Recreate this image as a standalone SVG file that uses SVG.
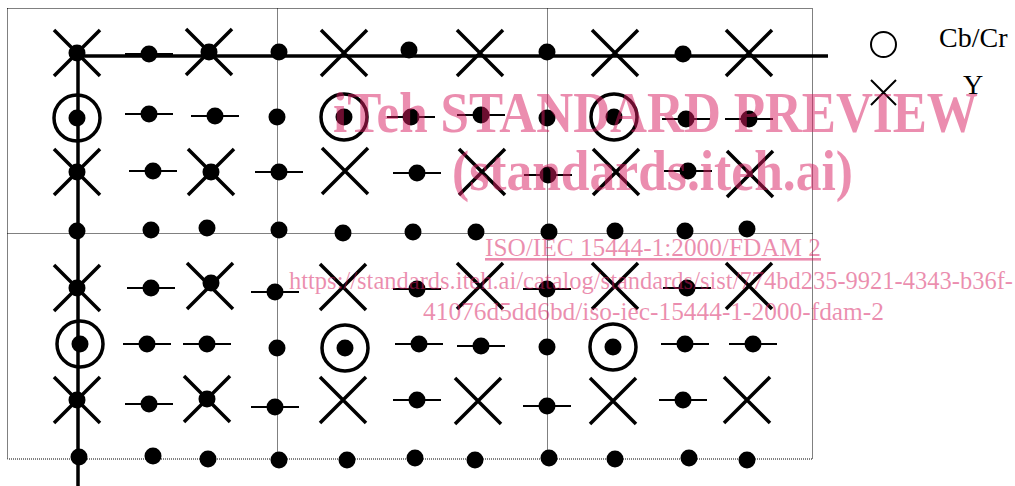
<svg xmlns="http://www.w3.org/2000/svg" xmlns:xlink="http://www.w3.org/1999/xlink" width="1015" height="486" viewBox="0 0 1015 486">
<style>
.frame{fill:none;stroke:#000;stroke-width:1;stroke-dasharray:1 1}
.axis{stroke:#000;stroke-width:3.5;fill:none}
.thin{stroke:#000;stroke-width:2;fill:none}
.xs{stroke:#000;stroke-width:3.5;fill:none}
.ring{fill:none;stroke:#000;stroke-width:3.5}
.dot{fill:#000}
.lg{font-family:"Liberation Serif","Times New Roman",serif;font-size:28px;fill:#000}
.wm{font-family:"Liberation Serif","Times New Roman",serif;fill:#d81b60;fill-opacity:0.5}
.wb{font-weight:bold;font-size:57px}
.ws{font-size:26px}
</style>
<defs>
<g id="sDot"><circle class="dot" r="8.5"/></g>
<g id="sDL"><line class="thin" x1="-24" y1="0" x2="24" y2="0"/><circle class="dot" r="8.5"/></g>
<g id="sX"><path class="xs" d="M-23 -23L23 23M23 -23L-23 23"/></g>
<g id="sXD"><path class="xs" d="M-23 -23L23 23M23 -23L-23 23"/><circle class="dot" r="8.5"/></g>
<g id="sRD"><circle class="ring" r="23"/><circle class="dot" r="8.5"/></g>
</defs>
<rect width="1015" height="486" fill="#fff"/>
<g id="grid">
<rect class="frame" x="7.5" y="8.5" width="805" height="450.5"/>
<line class="frame" x1="277.5" y1="8.5" x2="277.5" y2="459"/>
<line class="frame" x1="547.5" y1="8.5" x2="547.5" y2="459"/>
<line class="frame" x1="7.5" y1="233.5" x2="812.5" y2="233.5"/>
</g>
<g id="connectors">
<line class="thin" x1="125" y1="54" x2="173" y2="54"/>
<line class="axis" x1="77" y1="56" x2="828" y2="56"/>
<line class="axis" x1="78" y1="53" x2="78" y2="486"/>
</g>
<g id="row1">
<g id="n1-1"><use xlink:href="#sXD" x="77" y="53"/></g>
<g id="n1-2"><circle class="dot" cx="149" cy="54" r="8.5"/></g>
<g id="n1-3"><use xlink:href="#sXD" x="209" y="52"/></g>
<g id="n1-4"><use xlink:href="#sDot" x="279" y="52"/></g>
<g id="n1-5"><use xlink:href="#sX" x="344" y="53"/></g>
<g id="n1-6"><use xlink:href="#sDot" x="409" y="50"/></g>
<g id="n1-7"><use xlink:href="#sX" x="480" y="53"/></g>
<g id="n1-8"><use xlink:href="#sDot" x="547" y="52"/></g>
<g id="n1-9"><use xlink:href="#sX" x="615" y="53"/></g>
<g id="n1-10"><use xlink:href="#sDot" x="683" y="54"/></g>
<g id="n1-11"><use xlink:href="#sX" x="749" y="53"/></g>
</g>
<g id="row2">
<g id="n2-1"><use xlink:href="#sRD" x="77" y="118"/></g>
<g id="n2-2"><use xlink:href="#sDL" x="149" y="114"/></g>
<g id="n2-3"><use xlink:href="#sDL" x="215" y="116"/></g>
<g id="n2-4"><use xlink:href="#sDot" x="277" y="117"/></g>
<g id="n2-5"><use xlink:href="#sRD" x="344" y="117"/></g>
<g id="n2-6"><use xlink:href="#sDL" x="411" y="117"/></g>
<g id="n2-7"><use xlink:href="#sDL" x="481" y="115"/></g>
<g id="n2-8"><use xlink:href="#sDot" x="547" y="118"/></g>
<g id="n2-9"><use xlink:href="#sRD" x="614" y="117"/></g>
<g id="n2-10"><use xlink:href="#sDL" x="686" y="119"/></g>
<g id="n2-11"><use xlink:href="#sDL" x="749" y="119"/></g>
</g>
<g id="row3">
<g id="n3-1"><use xlink:href="#sXD" x="77" y="172"/></g>
<g id="n3-2"><use xlink:href="#sDL" x="153" y="171"/></g>
<g id="n3-3"><use xlink:href="#sXD" x="211" y="172"/></g>
<g id="n3-4"><use xlink:href="#sDL" x="279" y="172"/></g>
<g id="n3-5"><use xlink:href="#sX" x="345" y="171"/></g>
<g id="n3-6"><use xlink:href="#sDL" x="417" y="173"/></g>
<g id="n3-7"><use xlink:href="#sX" x="482" y="172"/></g>
<g id="n3-8"><use xlink:href="#sDL" x="548" y="175"/></g>
<g id="n3-9"><use xlink:href="#sX" x="616" y="172"/></g>
<g id="n3-10"><use xlink:href="#sDL" x="688" y="171"/></g>
<g id="n3-11"><use xlink:href="#sX" x="750" y="174"/></g>
</g>
<g id="row4">
<g id="n4-1"><use xlink:href="#sDot" x="77" y="231"/></g>
<g id="n4-2"><use xlink:href="#sDot" x="151" y="230"/></g>
<g id="n4-3"><use xlink:href="#sDot" x="207" y="228"/></g>
<g id="n4-4"><use xlink:href="#sDot" x="279" y="230"/></g>
<g id="n4-5"><use xlink:href="#sDot" x="343" y="233"/></g>
<g id="n4-6"><use xlink:href="#sDot" x="413" y="232"/></g>
<g id="n4-7"><use xlink:href="#sDot" x="476" y="232"/></g>
<g id="n4-8"><use xlink:href="#sDot" x="549" y="232"/></g>
<g id="n4-9"><use xlink:href="#sDot" x="615" y="231"/></g>
<g id="n4-10"><use xlink:href="#sDot" x="685" y="231"/></g>
<g id="n4-11"><use xlink:href="#sDot" x="747" y="229"/></g>
</g>
<g id="row5">
<g id="n5-1"><use xlink:href="#sXD" x="77" y="288"/></g>
<g id="n5-2"><use xlink:href="#sDL" x="151" y="288"/></g>
<g id="n5-3"><use xlink:href="#sX" x="210" y="286"/><use xlink:href="#sDot" x="211" y="283"/></g>
<g id="n5-4"><use xlink:href="#sDL" x="275" y="292"/></g>
<g id="n5-5"><use xlink:href="#sX" x="343" y="287"/></g>
<g id="n5-6"><use xlink:href="#sDL" x="417" y="289"/></g>
<g id="n5-7"><use xlink:href="#sX" x="480" y="286"/></g>
<g id="n5-8"><use xlink:href="#sDL" x="547" y="289"/></g>
<g id="n5-9"><use xlink:href="#sX" x="615" y="286"/></g>
<g id="n5-10"><use xlink:href="#sDL" x="687" y="288"/></g>
<g id="n5-11"><use xlink:href="#sX" x="749" y="286"/></g>
</g>
<g id="row6">
<g id="n6-1"><use xlink:href="#sRD" x="80" y="344"/></g>
<g id="n6-2"><use xlink:href="#sDL" x="147" y="344"/></g>
<g id="n6-3"><use xlink:href="#sDL" x="207" y="344"/></g>
<g id="n6-4"><use xlink:href="#sDot" x="277" y="348"/></g>
<g id="n6-5"><use xlink:href="#sRD" x="345" y="348"/></g>
<g id="n6-6"><use xlink:href="#sDL" x="419" y="344"/></g>
<g id="n6-7"><use xlink:href="#sDL" x="481" y="346"/></g>
<g id="n6-8"><use xlink:href="#sDot" x="547" y="347"/></g>
<g id="n6-9"><use xlink:href="#sRD" x="613" y="347"/></g>
<g id="n6-10"><use xlink:href="#sDL" x="685" y="344"/></g>
<g id="n6-11"><use xlink:href="#sDL" x="753" y="344"/></g>
</g>
<g id="row7">
<g id="n7-1"><use xlink:href="#sXD" x="77" y="400"/></g>
<g id="n7-2"><use xlink:href="#sDL" x="149" y="404"/></g>
<g id="n7-3"><use xlink:href="#sXD" x="207" y="399"/></g>
<g id="n7-4"><use xlink:href="#sDL" x="275" y="407"/></g>
<g id="n7-5"><use xlink:href="#sX" x="343" y="400"/></g>
<g id="n7-6"><use xlink:href="#sDL" x="417" y="400"/></g>
<g id="n7-7"><use xlink:href="#sX" x="478" y="401"/></g>
<g id="n7-8"><use xlink:href="#sDL" x="547" y="406"/></g>
<g id="n7-9"><use xlink:href="#sX" x="613" y="401"/></g>
<g id="n7-10"><use xlink:href="#sDL" x="683" y="400"/></g>
<g id="n7-11"><use xlink:href="#sX" x="747" y="400"/></g>
</g>
<g id="row8">
<g id="n8-1"><use xlink:href="#sDot" x="79" y="457"/></g>
<g id="n8-2"><use xlink:href="#sDot" x="153" y="456"/></g>
<g id="n8-3"><use xlink:href="#sDot" x="208" y="459"/></g>
<g id="n8-4"><use xlink:href="#sDot" x="279" y="460"/></g>
<g id="n8-5"><use xlink:href="#sDot" x="347" y="460"/></g>
<g id="n8-6"><use xlink:href="#sDot" x="415" y="458"/></g>
<g id="n8-7"><use xlink:href="#sDot" x="475" y="460"/></g>
<g id="n8-8"><use xlink:href="#sDot" x="549" y="458"/></g>
<g id="n8-9"><use xlink:href="#sDot" x="615" y="459"/></g>
<g id="n8-10"><use xlink:href="#sDot" x="689" y="458"/></g>
<g id="n8-11"><use xlink:href="#sDot" x="747" y="460"/></g>
</g>
<g id="legend">
<circle cx="883.5" cy="44.5" r="12.5" fill="none" stroke="#000" stroke-width="2"/>
<text class="lg" x="939" y="47">Cb/Cr</text>
<path d="M871 80L896 105M896 80L871 105" stroke="#000" stroke-width="2" fill="none"/>
<text class="lg" x="963" y="94">Y</text>
</g>
<g id="watermark">
<text class="wm wb" x="333" y="132" textLength="645" lengthAdjust="spacingAndGlyphs">iTeh STANDARD PREVIEW</text>
<text class="wm wb" x="452" y="190" textLength="401" lengthAdjust="spacingAndGlyphs">(standards.iteh.ai)</text>
<text class="wm ws" x="485" y="256" textLength="336" lengthAdjust="spacingAndGlyphs" text-decoration="underline">ISO/IEC 15444-1:2000/FDAM 2</text>
<text class="wm ws" x="289" y="289" textLength="724" lengthAdjust="spacingAndGlyphs">https://standards.iteh.ai/catalog/standards/sist/774bd235-9921-4343-b36f-</text>
<text class="wm ws" x="423" y="320" textLength="461" lengthAdjust="spacingAndGlyphs">41076d5dd6bd/iso-iec-15444-1-2000-fdam-2</text>
</g>
</svg>
